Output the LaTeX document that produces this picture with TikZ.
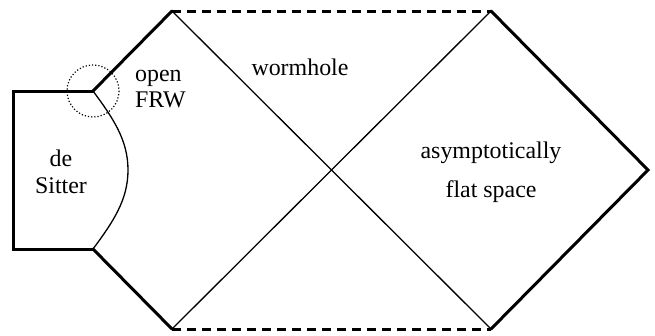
\documentclass[tikz,border=0pt]{standalone}
\usepackage{fontspec}
\setmainfont{Liberation Serif}
\tikzset{
    edge/.style={line width=3bp, line cap=round, line join=miter},
    thinline/.style={line width=1.3bp},
    nullinf/.style={line width=3bp, dash pattern=on 9bp off 6bp},
    blob/.style={line width=1.2bp, dotted}
}
\begin{document}
\begin{tikzpicture}[x=1bp, y=-1bp, font=\fontsize{24}{27}\selectfont]
    \useasboundingbox (0,0) rectangle (655,335);
    \path
        (13,91) coordinate(dsa)
        (13,249) coordinate(dsb)
        (93,91) coordinate(ja)
        (93,249) coordinate(jb)
        (172,11) coordinate(ta)
        (491,11) coordinate(tb)
        (172,329) coordinate(ba)
        (491,329) coordinate(bb)
        (648,170) coordinate(r);
    \draw [edge] (ja) -- (dsa) -- (dsb) -- (jb);
    \draw [edge] (ja) -- (ta);
    \draw [edge] (jb) -- (ba);
    \draw [edge] (tb) -- (r) -- (bb);
    \draw [nullinf] (ta) -- (tb);
    \draw [nullinf] (ba) -- (bb);
    \draw [thinline] (ta) -- (bb);
    \draw [thinline] (tb) -- (ba);
    \draw [thinline] (ja) .. controls (113,118) and (128,140) .. (128,170)
        .. controls (128,200) and (113,222) .. (jb);
    \draw [blob] (ja) circle (26);
    \path
        (135,89) node(frw)[anchor=west, align=left, inner sep=0pt]{open\\FRW}
        (61,172) node(ds)[align=center]{de\\Sitter}
        (300,67) node(wh){wormhole}
        (491,172) node(afs)[align=center]{asymptotically\\[12bp]flat space};
\end{tikzpicture}
\end{document}
